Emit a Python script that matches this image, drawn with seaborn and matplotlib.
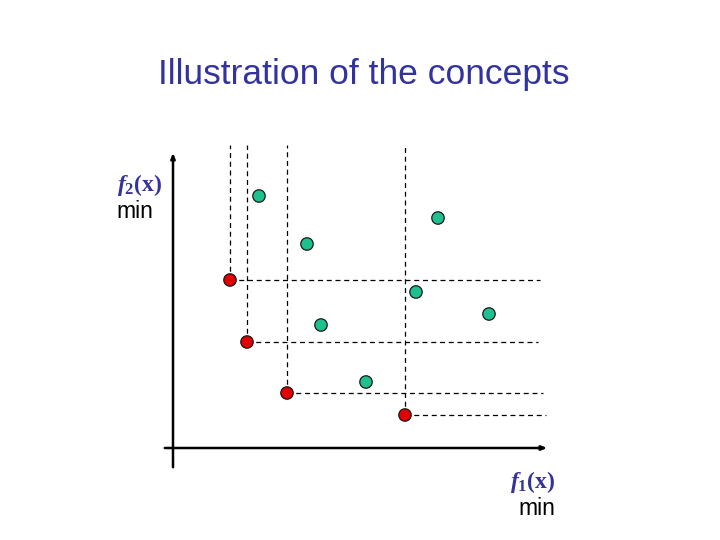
import seaborn as sns
import pandas as pd
import matplotlib.pyplot as plt

# points measured from the origin where the two axes cross
red_f1 = [57, 74, 114, 232]
red_f2 = [168, 106, 55, 33]
green_f1 = [86, 134, 265, 243, 316, 148, 193]
green_f2 = [252, 204, 230, 156, 134, 123, 66]
# where the dashed guide lines stop
guide_top = 303
guide_right = [367, 365, 370, 373]

sns.set_style('white')
plt.rcParams['mathtext.fontset'] = 'custom'
plt.rcParams['mathtext.it'] = 'Liberation Serif:italic:bold'
plt.rcParams['mathtext.rm'] = 'Liberation Serif:bold'
plt.rcParams['mathtext.bf'] = 'Liberation Serif:bold'

df = pd.DataFrame({
    'f1': red_f1 + green_f1,
    'f2': red_f2 + green_f2,
    'kind': ['red'] * len(red_f1) + ['green'] * len(green_f1),
})

fig = plt.figure(figsize=(7.2, 5.4), dpi=100)
ax = fig.add_axes([0, 0, 1, 1])
ax.set_xlim(-173, 547)
ax.set_ylim(-92, 448)
ax.axis('off')

# dashed guides from each red point
for x, y, r in zip(red_f1, red_f2, guide_right):
    ax.plot([x, x], [y, guide_top], color='black', lw=0.9, ls=(0, (4, 3)), zorder=1)
    ax.plot([x, r], [y, y], color='black', lw=0.9, ls=(0, (4, 3)), zorder=1)

# axes with arrow heads
ax.annotate('', xy=(0, 298), xytext=(0, -22),
            arrowprops=dict(arrowstyle='-|>,head_length=0.3,head_width=0.12', lw=1.8, color='black'))
ax.annotate('', xy=(377, 0), xytext=(-11, 0),
            arrowprops=dict(arrowstyle='-|>,head_length=0.3,head_width=0.12', lw=1.8, color='black'))

sns.scatterplot(data=df, x='f1', y='f2', hue='kind',
                palette={'red': '#E00000', 'green': '#1DC08E'},
                s=80, edgecolor='#1a1a1a', linewidth=0.9, legend=False, ax=ax, zorder=3)

fig.text(0.505, 0.862, 'Illustration of the concepts', ha='center', va='center',
         fontsize=25.5, color='#3333A0', family='Liberation Sans')

fig.text(0.163, 0.658, r'$f_{\mathrm{2}}\mathrm{(x)}$', ha='left', va='center',
         fontsize=17, color='#333399')
fig.text(0.162, 0.609, 'min', ha='left', va='center', fontsize=16.5,
         color='black', family='Liberation Sans')

fig.text(0.709, 0.107, r'$f_{\mathrm{1}}\mathrm{(x)}$', ha='left', va='center',
         fontsize=17, color='#333399')
fig.text(0.72, 0.059, 'min', ha='left', va='center', fontsize=16.5,
         color='black', family='Liberation Sans')

fig.savefig('out.png', dpi=100)
